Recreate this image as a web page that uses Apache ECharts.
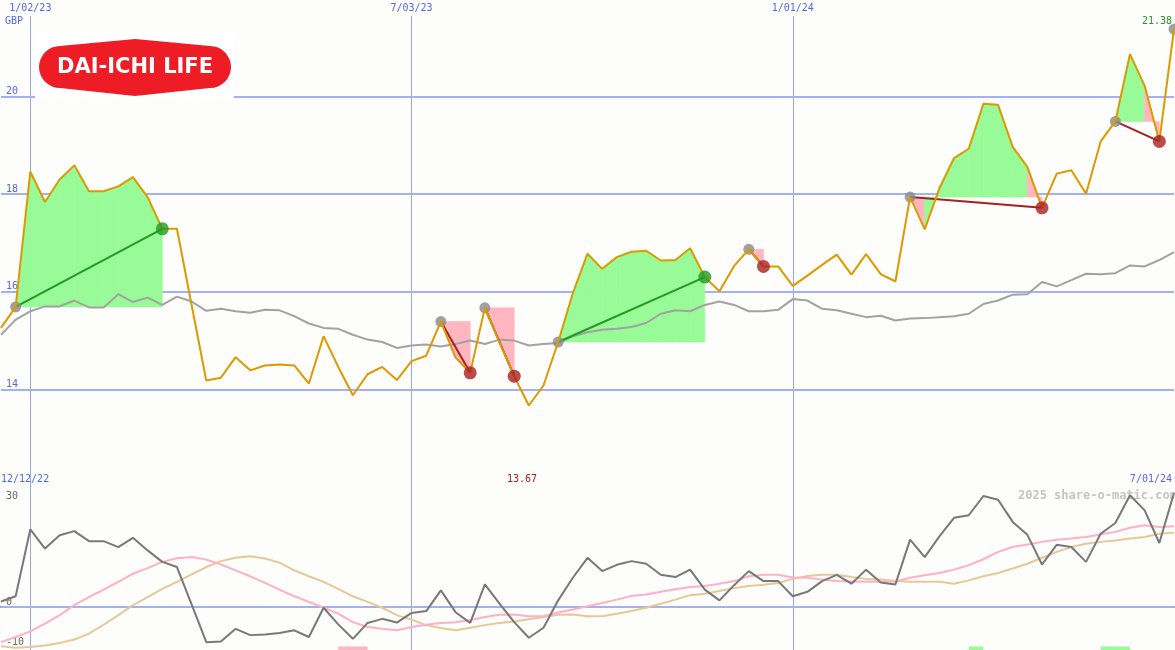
<!DOCTYPE html>
<html><head><meta charset="utf-8">
<script src="https://cdn.jsdelivr.net/npm/echarts@6/dist/echarts.min.js"></script>
<style>html,body{margin:0;padding:0;background:#fdfdfb}#c{width:1175px;height:650px}</style>
</head><body><div id="c"></div>
<script>
// ---------- data ----------
const firstWeek = '2022-12-19';
const weekCount = 81;
const dateTickLabels = ['1/02/23', '7/03/23', '1/01/24'];
const rangeStartLabel = '12/12/22';
const rangeEndLabel = '7/01/24';
const priceTicks = [14, 16, 18, 20];
const oscTicks = [-10, 0, 30];

const price = [
15.26,15.69,18.46,17.84,18.30,18.59,18.06,18.06,18.16,18.35,
17.94,17.29,17.29,15.73,14.18,14.24,14.66,14.39,14.49,14.51,
14.49,14.12,15.09,14.46,13.88,14.31,14.46,14.19,14.58,14.69,
15.39,14.65,14.34,15.67,14.96,14.27,13.67,14.08,14.97,15.97,
16.78,16.47,16.71,16.82,16.84,16.64,16.65,16.89,16.30,16.01,
16.53,16.87,16.52,16.52,16.12,16.33,16.55,16.76,16.35,16.77,
16.36,16.21,17.94,17.28,18.12,18.74,18.93,19.85,19.83,18.97,
18.56,17.72,18.42,18.49,18.01,19.08,19.49,20.87,20.22,19.08,
21.38];

const movingAvg = [
15.12,15.43,15.60,15.70,15.70,15.82,15.68,15.68,15.95,15.79,
15.88,15.73,15.90,15.80,15.61,15.65,15.60,15.57,15.63,15.62,
15.50,15.35,15.26,15.24,15.12,15.02,14.97,14.85,14.90,14.92,
14.88,14.93,15.00,14.93,15.02,15.00,14.90,14.93,14.95,15.09,
15.17,15.22,15.24,15.28,15.36,15.55,15.62,15.60,15.73,15.80,
15.73,15.60,15.60,15.63,15.85,15.82,15.65,15.62,15.55,15.48,
15.51,15.41,15.45,15.46,15.48,15.50,15.55,15.75,15.82,15.94,
15.95,16.20,16.11,16.24,16.37,16.36,16.38,16.54,16.52,16.65,
16.81];

const tradeEntry = [1, 30, 33, 38, 51, 62, 76];
const tradeExit  = [11, 32, 35, 48, 52, 71, 79];
const tradeFill  = ['gggggggggg', 'pp', 'pp', 'gggggggggg', 'p', 'pgggggggp', 'ggp'];
const openEntry  = [80];

const momentum = [
1.5,2.9,21.0,15.8,19.4,20.5,17.8,17.8,16.2,18.7,
15.3,12.2,10.8,0.7,-9.5,-9.3,-5.9,-7.6,-7.4,-7.0,
-6.3,-8.1,-0.2,-4.7,-8.6,-4.3,-3.2,-4.2,-1.6,-1.1,
4.5,-1.4,-4.3,6.1,0.9,-4.1,-8.3,-5.6,1.8,7.9,
13.3,9.7,11.4,12.4,11.7,8.7,8.1,10.1,4.7,1.8,
5.9,9.7,7.0,7.0,2.9,4.1,7.0,8.7,6.3,10.1,
6.6,6.1,18.2,13.5,19.1,24.1,24.8,30.0,29.0,23.0,
19.5,11.5,16.8,16.2,12.2,19.8,22.7,30.2,26.1,17.3,
30.8];

const fastAvg = [
-9.5,-8.1,-6.6,-4.5,-2.2,0.5,2.7,4.7,6.8,9.0,
10.5,12.2,13.2,13.5,12.8,11.5,9.9,8.3,6.5,4.7,
2.9,1.4,-0.2,-1.8,-4.1,-5.4,-5.9,-6.3,-5.4,-4.8,
-4.3,-4.1,-3.6,-2.7,-2.1,-2.0,-2.5,-2.5,-1.5,-0.7,
0.2,1.1,2.0,3.0,3.4,4.1,4.8,5.4,5.7,6.3,
7.0,8.3,8.7,8.7,8.0,7.9,7.4,7.0,6.9,6.8,
6.8,6.9,7.9,8.6,9.2,10.1,11.3,12.9,14.9,16.2,
16.9,17.6,18.2,18.5,18.9,19.6,20.3,21.4,22.1,21.6,
21.8];

const slowAvg = [
-10.6,-11.0,-10.8,-10.4,-9.7,-8.8,-7.2,-4.8,-2.2,0.5,
2.7,4.9,6.8,8.8,10.8,12.4,13.3,13.7,13.1,12.0,
9.9,8.3,6.8,4.9,2.9,1.4,-0.2,-2.2,-3.4,-4.9,
-5.7,-6.3,-5.6,-4.9,-4.3,-3.9,-3.3,-2.7,-2.1,-2.0,
-2.5,-2.5,-1.8,-1.1,-0.2,0.9,2.0,3.2,3.6,4.3,
5.1,5.7,6.0,6.5,7.6,8.4,8.7,8.7,8.1,7.6,
7.4,7.0,6.8,6.8,6.8,6.3,7.2,8.3,9.2,10.4,
11.7,13.3,14.9,16.2,17.1,17.6,18.0,18.5,18.9,19.8,
20.1];

const signalStart = [23, 66, 75];
const signalEnd   = [25, 67, 77];
const signalType  = ['sell', 'buy', 'buy'];

// ---------- helpers ----------
function weekLabels(start, n) {
  const out = [];
  const d0 = new Date(start + 'T00:00:00Z').getTime();
  for (let i = 0; i < n; i++) {
    const t = new Date(d0 + i * 7 * 86400000);
    out.push((t.getUTCMonth() + 1) + '/' + String(t.getUTCDate()).padStart(2, '0') + '/' + String(t.getUTCFullYear()).slice(2));
  }
  return out;
}
const dates = weekLabels(firstWeek, weekCount);
const tickIdx = dateTickLabels.map(l => dates.indexOf(l));
const showTick = (i) => tickIdx.indexOf(i) >= 0;

const MONO = '"DejaVu Sans Mono", monospace';
const GRID_C = '#a3b0f2';
const VGRID_C = '#98a6f0';
const GREEN_F = '#98fb98', PINK_F = '#ffb6c1';
const WIN_C = '#229922', LOSS_C = '#a82020';

const fillData = [];
const tradeLineData = [];
const exitData = [];
const entryData = [];
tradeEntry.forEach((e, t) => {
  const x = tradeExit[t];
  const base = price[e];
  const win = price[x] > price[e] ? 1 : 0;
  for (let k = e; k < x; k++) {
    fillData.push([k, price[k], price[k + 1], base, tradeFill[t][k - e] === 'g' ? 1 : 0]);
  }
  tradeLineData.push([e, price[e], x, price[x], win]);
  exitData.push({ value: [x, price[x]], itemStyle: { color: win ? WIN_C : LOSS_C } });
  entryData.push([e, price[e]]);
});
openEntry.forEach(e => entryData.push([e, price[e]]));

const signalData = signalStart.map((s, j) => [s, signalEnd[j], signalType[j] === 'buy' ? 1 : 0]);
const OSC_MIN = -11.62, OSC_MAX = 32.43;

const chart = echarts.init(document.getElementById('c'), null, { renderer: 'canvas' });
chart.setOption({
  animation: false,
  backgroundColor: '#fdfdfb',
  grid: [
    { left: 1, right: 1, top: 16, height: 471 },
    { left: 1, right: 1, top: 487, height: 163 }
  ],
  xAxis: [
    {
      gridIndex: 0, type: 'category', data: dates, boundaryGap: false, position: 'top',
      axisLine: { show: false }, axisTick: { show: false },
      axisLabel: { interval: (i) => showTick(i), color: '#5566ee', fontFamily: MONO, fontSize: 10, margin: 3 },
      splitLine: { show: true, interval: (i) => showTick(i), lineStyle: { color: VGRID_C, width: 1 } }
    },
    {
      gridIndex: 1, type: 'category', data: dates, boundaryGap: false, position: 'top',
      axisLine: { show: true, lineStyle: { color: '#7a88f0', width: 2 } }, axisTick: { show: false },
      axisLabel: { show: false },
      splitLine: { show: true, interval: (i) => showTick(i), lineStyle: { color: VGRID_C, width: 1 } }
    }
  ],
  yAxis: [
    {
      gridIndex: 0, type: 'value', min: 12, max: 21.65, interval: 2,
      axisLine: { show: false }, axisTick: { show: false }, splitLine: { show: false },
      axisLabel: { inside: true, margin: 5, showMinLabel: false, showMaxLabel: false, verticalAlign: 'bottom',
        color: '#5566ee', fontFamily: MONO, fontSize: 10,
        formatter: (v) => priceTicks.indexOf(v) >= 0 ? String(v) : '' }
    },
    {
      gridIndex: 1, type: 'value', min: OSC_MIN, max: OSC_MAX,
      axisLine: { show: false }, axisTick: { show: false }, splitLine: { show: false },
      axisLabel: { customValues: oscTicks, inside: true, margin: 5, verticalAlign: 'middle',
        color: '#666', fontFamily: MONO, fontSize: 10,
        formatter: (v) => v === 30 ? '{a|30}' : (v === 0 ? '{b|0}' : '{c|' + v + '}'),
        rich: {
          a: { color: '#666', fontFamily: MONO, fontSize: 10 },
          b: { color: '#666', fontFamily: MONO, fontSize: 10, padding: [0, 0, 10, 0] },
          c: { color: '#666', fontFamily: MONO, fontSize: 10, padding: [0, 0, 4, 0] }
        } }
    }
  ],
  series: [
    { type: 'line', xAxisIndex: 0, yAxisIndex: 0, data: [], silent: true, z: 1,
      markLine: { z: 1, silent: true, symbol: ['none', 'none'], label: { show: false },
        lineStyle: { color: GRID_C, width: 2, type: 'solid' },
        data: priceTicks.map(v => ({ yAxis: v })) } },
    { type: 'line', xAxisIndex: 1, yAxisIndex: 1, data: [], silent: true, z: 1,
      markLine: { z: 1, silent: true, symbol: ['none', 'none'], label: { show: false },
        lineStyle: { color: GRID_C, width: 2, type: 'solid' },
        data: [{ yAxis: 0 }] } },
    { type: 'custom', xAxisIndex: 0, yAxisIndex: 0, z: 2, silent: true, data: fillData,
      encode: { x: 0, y: [1, 2, 3] },
      renderItem: (params, api) => {
        const k = api.value(0);
        const a = api.coord([k, api.value(1)]);
        const b = api.coord([k + 1, api.value(2)]);
        const c = api.coord([k + 1, api.value(3)]);
        const d = api.coord([k, api.value(3)]);
        const col = api.value(4) === 1 ? GREEN_F : PINK_F;
        return { type: 'polygon', shape: { points: [a, b, c, d] }, style: { fill: col, stroke: col, lineWidth: 0.6 } };
      } },
    { type: 'line', name: 'avg', xAxisIndex: 0, yAxisIndex: 0, z: 3, data: movingAvg, symbol: 'none',
      lineStyle: { color: '#a2a2a2', width: 2 } },
    { type: 'custom', xAxisIndex: 0, yAxisIndex: 0, z: 4, silent: true, data: tradeLineData,
      encode: { x: [0, 2], y: [1, 3] },
      renderItem: (params, api) => {
        const p0 = api.coord([api.value(0), api.value(1)]);
        const p1 = api.coord([api.value(2), api.value(3)]);
        return { type: 'line', shape: { x1: p0[0], y1: p0[1], x2: p1[0], y2: p1[1] },
          style: { stroke: api.value(4) === 1 ? WIN_C : LOSS_C, lineWidth: 2 } };
      } },
    { type: 'scatter', xAxisIndex: 0, yAxisIndex: 0, z: 5, data: entryData, symbolSize: 11,
      itemStyle: { color: '#888888' } },
    { type: 'line', name: 'price', xAxisIndex: 0, yAxisIndex: 0, z: 6, data: price, symbol: 'none',
      lineStyle: { color: '#dd9900', width: 2 } },
    { type: 'scatter', xAxisIndex: 0, yAxisIndex: 0, z: 7, data: exitData, symbolSize: 13 },
    { type: 'line', xAxisIndex: 1, yAxisIndex: 1, z: 3, data: slowAvg, symbol: 'none',
      lineStyle: { color: '#e6c896', width: 2 } },
    { type: 'line', xAxisIndex: 1, yAxisIndex: 1, z: 4, data: fastAvg, symbol: 'none',
      lineStyle: { color: '#ffb0c8', width: 2 } },
    { type: 'line', xAxisIndex: 1, yAxisIndex: 1, z: 5, data: momentum, symbol: 'none',
      lineStyle: { color: '#787878', width: 2 } },
    { type: 'custom', xAxisIndex: 1, yAxisIndex: 1, z: 3, silent: true, data: signalData,
      encode: { x: [0, 1] },
      renderItem: (params, api) => {
        const p0 = api.coord([api.value(0), OSC_MIN + 0.95]);
        const p1 = api.coord([api.value(1), OSC_MIN]);
        return { type: 'rect', shape: { x: p0[0], y: p0[1], width: p1[0] - p0[0], height: p1[1] - p0[1] },
          style: { fill: api.value(2) === 1 ? GREEN_F : PINK_F } };
      } }
  ],
  graphic: [
    { type: 'rect', z: 100, shape: { x: 35, y: 32, width: 199, height: 67 }, style: { fill: '#ffffff' } },
    { type: 'polygon', z: 101, shape: { points: [[60, 46], [135, 39], [210, 46], [210, 88], [135, 96], [60, 88]] }, style: { fill: '#ee1c25' } },
    { type: 'circle', z: 101, shape: { cx: 60, cy: 67, r: 21 }, style: { fill: '#ee1c25' } },
    { type: 'circle', z: 101, shape: { cx: 210, cy: 67, r: 21 }, style: { fill: '#ee1c25' } },
    { type: 'text', z: 102, x: 135, y: 68, style: { text: 'DAI-ICHI LIFE', fill: '#ffffff', font: 'bold 21px "DejaVu Sans", sans-serif', align: 'center', verticalAlign: 'middle' } },
    { type: 'text', z: 50, x: 5, y: 21, style: { text: 'GBP', fill: '#5566ee', font: '10px ' + MONO, verticalAlign: 'middle' } },
    { type: 'text', z: 50, x: 1, y: 479, style: { text: rangeStartLabel, fill: '#5566ee', font: '10px ' + MONO, verticalAlign: 'middle' } },
    { type: 'text', z: 50, x: 1172, y: 479, style: { text: rangeEndLabel, fill: '#5566ee', font: '10px ' + MONO, align: 'right', verticalAlign: 'middle' } },
    { type: 'text', z: 50, x: 522, y: 479, style: { text: Math.min.apply(null, price).toFixed(2), fill: LOSS_C, font: '10px ' + MONO, align: 'center', verticalAlign: 'middle' } },
    { type: 'text', z: 50, x: 1172, y: 21, style: { text: price[price.length - 1].toFixed(2), fill: WIN_C, font: '10px ' + MONO, align: 'right', verticalAlign: 'middle' } },
    { type: 'text', z: 1, x: 1018, y: 496, style: { text: '2025 share-o-matic.com', fill: '#c4c4c4', font: 'bold 12px ' + MONO, verticalAlign: 'middle' } }
  ]
});
</script>
</body></html>
